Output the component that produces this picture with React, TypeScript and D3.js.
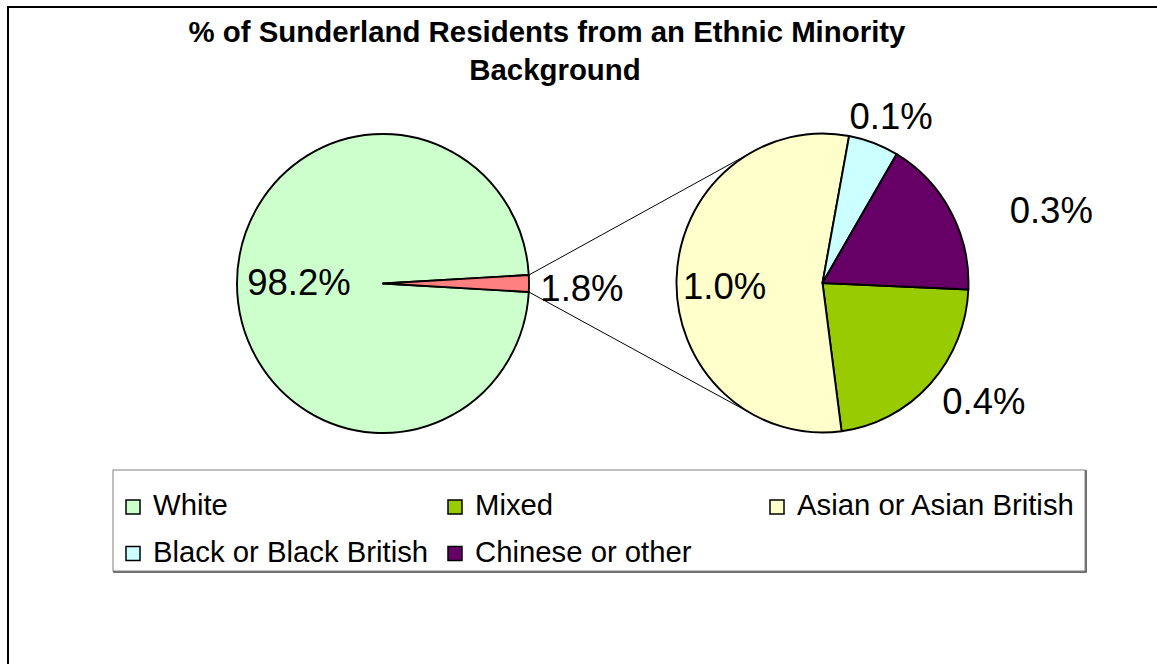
import React from "react";
import * as d3 from "d3";

const categories = ["White", "Mixed", "Asian or Asian British", "Black or Black British", "Chinese or other"];
const values = [98.2, 0.40, 0.99, 0.10, 0.31];
const colors = ["#CCFFCC", "#99CC00", "#FFFFCC", "#CCFFFF", "#660066"];
const otherColor = "#FF8080";
const titleLines = ["% of Sunderland Residents from an Ethnic Minority", "Background"];

// label layout: [angle offset (deg) from slice mid-angle, radius in px]
const leftLabelLayout = [[0.8, 84], [1.3, 199]];
const rightLabelLayout = [[-6.3, 200], [-3.4, 98], [1.8, 181], [10.9, 240]];

const W = 1157, H = 664;
const R = 146;
const KY = 1.024;
const LC = { x: 383, y: 283.5 };
const RC = { x: 822.5, y: 283 };
const FONT = "Arial, 'Liberation Sans', Helvetica, sans-serif";
const fmt = d3.format(".1f");
const rad = (deg: number) => (deg * Math.PI) / 180;

export default function App() {
  const white = values[0];
  const minorityVals = values.slice(1);
  const minorityCols = colors.slice(1);
  const other = d3.sum(minorityVals);

  const arc = d3.arc<any>().innerRadius(0).outerRadius(R);

  const leftStart = Math.PI / 2 - (other / (white + other)) * Math.PI;
  const leftPie = d3.pie<number>().sort(null).startAngle(leftStart).endAngle(leftStart + 2 * Math.PI)([other, white]);
  const leftData = [
    { arc: leftPie[1], color: colors[0], value: white, layout: leftLabelLayout[0] },
    { arc: leftPie[0], color: otherColor, value: other, layout: leftLabelLayout[1] },
  ];

  const rs = rad(92.5);
  const rightPie = d3.pie<number>().sort(null).startAngle(rs).endAngle(rs + 2 * Math.PI)(minorityVals);

  const otherArc = leftPie[0];
  const edgePt = (a: number) => {
    const [x, y] = d3.pointRadial(a, R);
    return { x: LC.x + x, y: LC.y + y * KY };
  };
  const tangent = (p: { x: number; y: number }, upper: boolean) => {
    const px = p.x - RC.x, py = (p.y - RC.y) / KY;
    const d = Math.hypot(px, py);
    const phi = Math.atan2(py, px);
    const al = Math.acos(R / d);
    const c1 = phi + al, c2 = phi - al;
    const t1 = { x: R * Math.cos(c1), y: R * Math.sin(c1) };
    const t2 = { x: R * Math.cos(c2), y: R * Math.sin(c2) };
    const t = upper ? (t1.y < t2.y ? t1 : t2) : (t1.y > t2.y ? t1 : t2);
    return { x: RC.x + t.x, y: RC.y + t.y * KY };
  };
  const pTop = edgePt(otherArc.startAngle);
  const pBot = edgePt(otherArc.endAngle);
  const tTop = tangent(pTop, true);
  const tBot = tangent(pBot, false);

  const labelPos = (a: any, center: { x: number; y: number }, layout: number[]) => {
    const mid = (a.startAngle + a.endAngle) / 2 + rad(layout[0]);
    const [x, y] = d3.pointRadial(mid, layout[1]);
    return { x: center.x + x, y: center.y + y };
  };

  const legend = { x: 113, y: 470, w: 972, h: 101 };
  const colW = 322;
  const rowBase = [515, 561.5];

  return (
    <svg width={W} height={H} style={{ position: "absolute", left: 0, top: 0 }} fontFamily={FONT}>
      <rect x={0} y={0} width={W} height={H} fill="#fff" />
      <rect x={8} y={7} width={W + 50} height={H + 50} fill="#fff" stroke="#000" strokeWidth={2} />

      <text x={547} y={42} textAnchor="middle" fontSize={29.4} fontWeight="bold" fill="#000">{titleLines[0]}</text>
      <text x={555} y={80} textAnchor="middle" fontSize={29.4} fontWeight="bold" fill="#000">{titleLines[1]}</text>

      <line x1={pTop.x} y1={pTop.y} x2={tTop.x} y2={tTop.y} stroke="#000" strokeWidth={1} />
      <line x1={pBot.x} y1={pBot.y} x2={tBot.x} y2={tBot.y} stroke="#000" strokeWidth={1} />

      <g transform={`translate(${LC.x},${LC.y}) scale(1,${KY})`}>
        {leftData.map((d, i) => (
          <path key={i} d={arc(d.arc) as string} fill={d.color} stroke="#000" strokeWidth={1.9} strokeLinejoin="round" />
        ))}
      </g>
      <g transform={`translate(${RC.x},${RC.y}) scale(1,${KY})`}>
        {rightPie.map((d, i) => (
          <path key={i} d={arc(d) as string} fill={minorityCols[i]} stroke="#000" strokeWidth={1.9} strokeLinejoin="round" />
        ))}
      </g>

      {leftData.map((d, i) => {
        const p = labelPos(d.arc, LC, d.layout);
        return (
          <text key={"l" + i} x={p.x} y={p.y} dy="0.358em" textAnchor="middle" fontSize={36.5} fill="#000">
            {fmt(d.value)}%
          </text>
        );
      })}
      {rightPie.map((d, i) => {
        const p = labelPos(d, RC, rightLabelLayout[i]);
        return (
          <text key={"r" + i} x={p.x} y={p.y} dy="0.358em" textAnchor="middle" fontSize={36.5} fill="#000">
            {fmt(minorityVals[i])}%
          </text>
        );
      })}

      <rect x={legend.x + 1} y={legend.y + 1} width={legend.w} height={legend.h} fill="none" stroke="#404040" strokeWidth={1.5} />
      <rect x={legend.x} y={legend.y} width={legend.w} height={legend.h} fill="#fff" stroke="#808080" strokeWidth={1} />
      {categories.map((c, i) => {
        const col = i % 3, row = Math.floor(i / 3);
        const mx = legend.x + 13 + col * colW;
        const base = rowBase[row];
        return (
          <g key={c}>
            <rect x={mx} y={base - 15} width={14} height={14} fill={colors[i]} stroke="#000" strokeWidth={1.5} />
            <text x={mx + 27} y={base} fontSize={29.3} fill="#000">{c}</text>
          </g>
        );
      })}
    </svg>
  );
}
